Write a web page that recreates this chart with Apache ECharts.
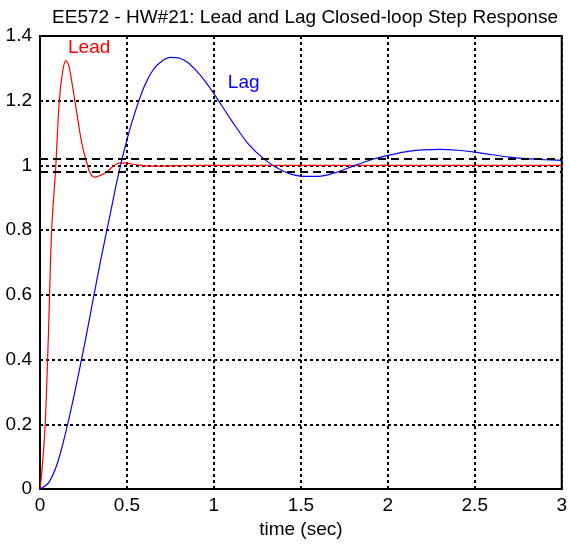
<!DOCTYPE html>
<html>
<head>
<meta charset="utf-8">
<script src="https://cdn.jsdelivr.net/npm/echarts@6/dist/echarts.min.js"></script>
<style>
  html, body { margin: 0; padding: 0; background: #fff; }
  #chart { width: 570px; height: 544px; }
</style>
</head>
<body>
<div id="chart"></div>
<script>
// Closed-loop step responses (time in seconds, output amplitude)
var leadTime = [0, 0.01, 0.029, 0.048, 0.067, 0.09, 0.111, 0.13, 0.148, 0.165, 0.19, 0.215, 0.24, 0.268, 0.29, 0.316, 0.35, 0.383, 0.42, 0.46, 0.5, 0.556, 0.65, 0.75, 0.9, 1.2, 2.0, 3.0];
var leadResp = [0, 0.05, 0.19, 0.47, 0.8, 0.99, 1.2, 1.29, 1.324, 1.31, 1.235, 1.15, 1.07, 1.01, 0.975, 0.964, 0.97, 0.98, 0.997, 1.008, 1.007, 1.002, 0.998, 0.999, 1.0, 1.0, 1.0, 1.0];

var lagTime = [0, 0.05, 0.1, 0.15, 0.2, 0.25, 0.3, 0.35, 0.4, 0.45, 0.5, 0.55, 0.6, 0.65, 0.7, 0.75, 0.8, 0.85, 0.9, 0.95, 1.0, 1.1, 1.2, 1.3, 1.4, 1.5, 1.6, 1.7, 1.8, 1.9, 2.0, 2.1, 2.2, 2.3, 2.4, 2.5, 2.6, 2.7, 2.8, 2.9, 3.0];
var lagResp = [0, 0.02, 0.08, 0.18, 0.30, 0.43, 0.57, 0.71, 0.84, 0.97, 1.08, 1.17, 1.245, 1.295, 1.322, 1.334, 1.332, 1.318, 1.292, 1.26, 1.222, 1.14, 1.065, 1.015, 0.982, 0.967, 0.966, 0.978, 0.998, 1.017, 1.031, 1.042, 1.048, 1.05, 1.047, 1.041, 1.033, 1.026, 1.021, 1.018, 1.016];

// +/-2% settling band around the final value
var bandLevels = [1.02, 0.98];

var xTicks = { min: 0, max: 3, interval: 0.5 };
var yTicks = { min: 0, max: 1.4, interval: 0.2 };

function pairs(xs, ys) {
  return xs.map(function (x, i) { return [x, ys[i]]; });
}

var font = 'Liberation Sans, Arial, sans-serif';
var fs = 19;
var chart = echarts.init(document.getElementById('chart'), null, { renderer: 'canvas' });

chart.setOption({
  animation: false,
  backgroundColor: '#fff',
  title: {
    text: 'EE572 - HW#21: Lead and Lag Closed-loop Step Response',
    left: 300,
    textAlign: 'center',
    top: 3,
    textStyle: { fontFamily: font, fontSize: fs, fontWeight: 'normal', color: '#000' }
  },
  grid: {
    left: 40, right: 8, top: 36, bottom: 51,
    show: true, borderColor: '#000', borderWidth: 2, backgroundColor: '#fff'
  },
  xAxis: {
    type: 'value',
    min: xTicks.min, max: xTicks.max, interval: xTicks.interval,
    name: 'time (sec)',
    nameLocation: 'middle',
    nameGap: 29,
    nameTextStyle: { fontFamily: font, fontSize: fs, color: '#000' },
    axisLine: { show: true, onZero: false, lineStyle: { color: '#000', width: 2 } },
    axisTick: { show: false },
    axisLabel: { fontFamily: font, fontSize: fs, color: '#000', margin: 7 },
    splitLine: { show: true, lineStyle: { color: '#000', width: 2, type: [3, 3] } }
  },
  yAxis: {
    type: 'value',
    min: yTicks.min, max: yTicks.max, interval: yTicks.interval,
    axisLine: { show: true, onZero: false, lineStyle: { color: '#000', width: 2 } },
    axisTick: { show: false },
    axisLabel: { fontFamily: font, fontSize: fs, color: '#000', margin: 8 },
    splitLine: { show: true, lineStyle: { color: '#000', width: 2, type: [3, 3] } }
  },
  series: [
    {
      name: 'Band',
      type: 'line',
      data: [],
      silent: true,
      markLine: {
        symbol: 'none',
        silent: true,
        label: { show: false },
        lineStyle: { color: '#000', width: 2, type: [8, 5] },
        data: bandLevels.map(function (v) { return { yAxis: v }; })
      }
    },
    {
      name: 'Lead',
      type: 'line',
      data: pairs(leadTime, leadResp),
      showSymbol: false,
      smooth: 0.3,
      lineStyle: { color: '#ff0000', width: 1.2 },
      itemStyle: { color: '#ff0000' },
      markPoint: {
        symbol: 'circle', symbolSize: 0,
        label: { show: true, position: 'right', distance: 0, formatter: 'Lead',
                 fontFamily: font, fontSize: fs, color: '#ff0000' },
        data: [{ coord: [0.161, 1.363] }]
      }
    },
    {
      name: 'Lag',
      type: 'line',
      data: pairs(lagTime, lagResp),
      showSymbol: false,
      smooth: 0.3,
      lineStyle: { color: '#0000ff', width: 1.2 },
      itemStyle: { color: '#0000ff' },
      markPoint: {
        symbol: 'circle', symbolSize: 0,
        label: { show: true, position: 'right', distance: 0, formatter: 'Lag',
                 fontFamily: font, fontSize: fs, color: '#0000ff' },
        data: [{ coord: [1.08, 1.256] }]
      }
    }
  ]
});
</script>
</body>
</html>
